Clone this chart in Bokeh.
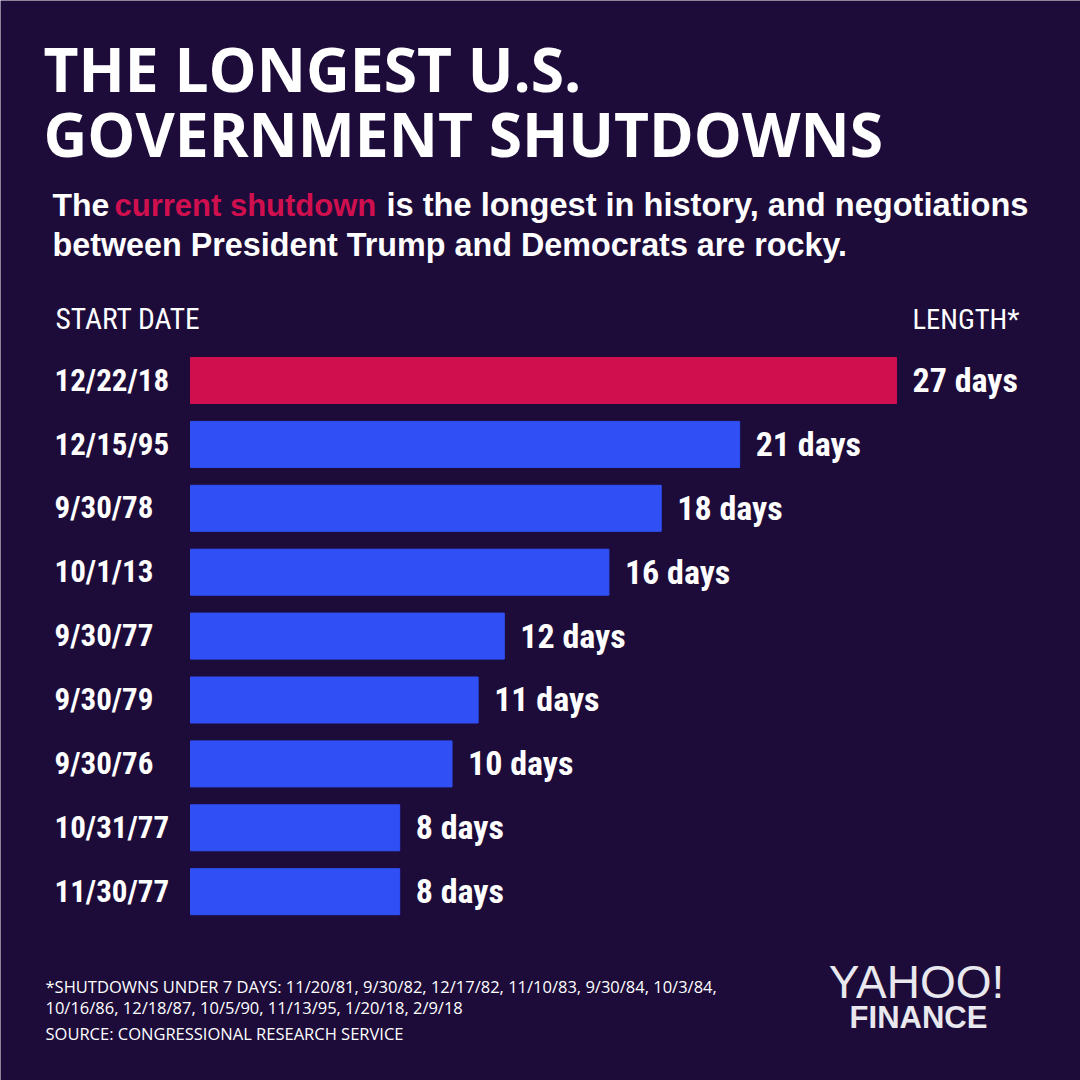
from bokeh.plotting import figure
from bokeh.models import ColumnDataSource, Label, Range1d
from bokeh.core.properties import value
from bokeh.embed import file_html
from bokeh.resources import INLINE

# ---- data ----
start_dates = ["12/22/18", "12/15/95", "9/30/78", "10/1/13", "9/30/77",
               "9/30/79", "9/30/76", "10/31/77", "11/30/77"]
lengths = [27, 21, 18, 16, 12, 11, 10, 8, 8]
is_current = [True, False, False, False, False, False, False, False, False]

title_lines = ["THE LONGEST U.S.", "GOVERNMENT SHUTDOWNS"]
foot_lines = ["*SHUTDOWNS UNDER 7 DAYS: 11/20/81, 9/30/82, 12/17/82, 11/10/83, 9/30/84, 10/3/84,",
              "10/16/86, 12/18/87, 10/5/90, 11/13/95, 1/20/18, 2/9/18",
              "SOURCE:  CONGRESSIONAL RESEARCH SERVICE"]

BG = "#1d0c3a"
RED = "#d00f4f"
BLUE = "#3050f6"
WHITE = "#ffffff"
COND = "Roboto Condensed"
SHIFT = 0.40  # empirical baseline correction (fraction of font size)

W = H = 1080
px_per_day = 26.15
x0 = 190
row = 63.9
y0 = 380

src = ColumnDataSource(dict(
    y=list(range(len(lengths))),
    days=lengths,
    date=start_dates,
    label=[f"{d} days" for d in lengths],
    color=[RED if c else BLUE for c in is_current],
))

p = figure(width=W, height=H, output_backend="svg", toolbar_location=None,
           x_range=Range1d(-x0 / px_per_day, (W - x0) / px_per_day),
           y_range=Range1d((H - y0) / row, -y0 / row),
           min_border=0, x_axis_location=None, y_axis_location=None,
           background_fill_color=BG, border_fill_color=BG, outline_line_color=None)
p.xgrid.visible = False
p.ygrid.visible = False

p.hbar(y="y", left=0, right="days", height=0.72, color="color", source=src)

DS = 31
VS = 34
p.text(x=0, y="y", text="date", source=src, x_offset=-136, y_offset=12 - SHIFT * DS,
       text_font=value(COND), text_font_style="bold", text_font_size=f"{DS}px",
       text_color=WHITE, text_align="left", text_baseline="alphabetic")
p.text(x="days", y="y", text="label", source=src, x_offset=16, y_offset=13 - SHIFT * VS,
       text_font=value(COND), text_font_style="bold", text_font_size=f"{VS}px",
       text_color=WHITE, text_align="left", text_baseline="alphabetic")


def lab(text, x, base, size, font, style="normal", color=WHITE, align="left"):
    p.add_layout(Label(x=x, y=H - base + SHIFT * size, x_units="screen", y_units="screen",
                       text=text, text_font=font, text_font_style=style,
                       text_font_size=f"{size}px", text_color=color, text_align=align,
                       text_baseline="alphabetic"))


# title
lab(title_lines[0], 43, 92, 60.5, "Open Sans", "bold")
lab(title_lines[1], 43, 157, 60.5, "Open Sans", "bold")

# subtitle
SUB = "Liberation Sans"
lab("The", 52, 217, 32, SUB, "bold")
lab("current shutdown", 114, 217, 31, SUB, "bold", RED)
lab("is the longest in history, and negotiations", 386, 217, 32.6, SUB, "bold")
lab("between President Trump and Democrats are rocky.", 52, 257, 32.3, SUB, "bold")

# column headers
lab("START DATE", 55, 330, 29.5, COND)
lab("LENGTH*", 912, 330, 28.5, COND)

# footnotes
lab(foot_lines[0], 45, 993, 16.5, "Open Sans")
lab(foot_lines[1], 45, 1014, 16.5, "Open Sans")
lab(foot_lines[2], 45, 1040, 16.5, "Open Sans")

# logo
lab("YAHOO!", 916, 1000, 46, "Liberation Sans", "normal", "#e8e8ee", "center")
lab("FINANCE", 918, 1029, 31, "Liberation Sans", "bold", "#e8e8ee", "center")

open("out.html", "w").write(file_html(p, INLINE))
